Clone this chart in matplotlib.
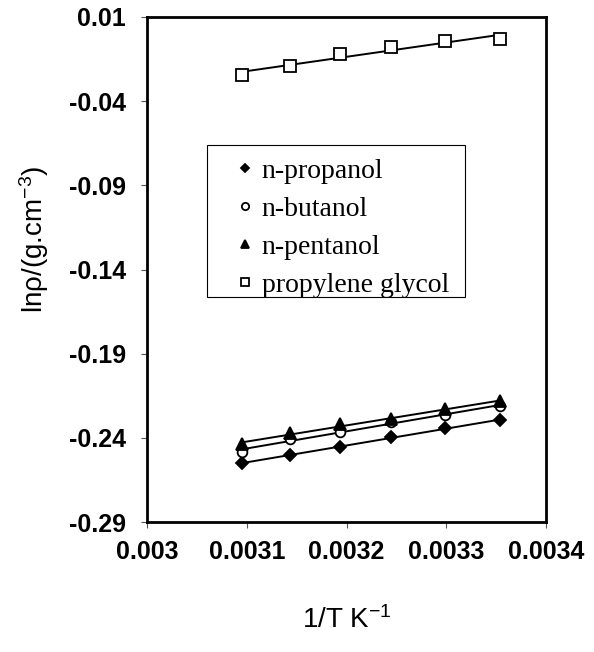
import matplotlib
matplotlib.use('Agg')
import matplotlib.pyplot as plt
from matplotlib.patches import Rectangle
import numpy as np

plt.rcParams['font.family'] = 'Liberation Sans'
plt.rcParams['mathtext.default'] = 'regular'

# 1/T for 323.15 ... 298.15 K
inv_T = [0.003095, 0.003143, 0.003193, 0.003245, 0.003299, 0.003354]

ln_rho_propanol = [-0.2552, -0.2502, -0.2453, -0.2397, -0.2344, -0.2295]
ln_rho_butanol = [-0.2483, -0.2409, -0.2364, -0.2305, -0.2265, -0.2211]
ln_rho_pentanol = [-0.2439, -0.2374, -0.2320, -0.2287, -0.2231, -0.2182]
ln_rho_glycol = [-0.0245, -0.0189, -0.0122, -0.0080, -0.0041, -0.0032]

names = ['n-propanol', 'n-butanol', 'n-pentanol', 'propylene glycol']
series = [ln_rho_propanol, ln_rho_butanol, ln_rho_pentanol, ln_rho_glycol]

xticks = [0.003, 0.0031, 0.0032, 0.0033, 0.0034]
xticklabels = ['0.003', '0.0031', '0.0032', '0.0033', '0.0034']
yticks = [-0.29, -0.24, -0.19, -0.14, -0.09, -0.04, 0.01]
yticklabels = ['-0.29', '-0.24', '-0.19', '-0.14', '-0.09', '-0.04', '0.01']

styles = [
    dict(marker='D', markersize=6, markerfacecolor='black'),
    dict(marker='o', markersize=7, markerfacecolor='white'),
    dict(marker='^', markersize=8, markerfacecolor='black'),
    dict(marker='s', markersize=8, markerfacecolor='white'),
]

fig = plt.figure(figsize=(5.94, 6.52), dpi=100)
ax = fig.add_axes([147/594, 1-522/652, 399/594, 505/652])

x = np.array(inv_T)
for name, y, st in zip(names, series, styles):
    # linear fit through each data set
    k, b = np.polyfit(x, y, 1)
    ax.plot(x, k*x + b, color='black', lw=1.4, zorder=2)
    ax.plot(x, y, linestyle='none', color='black', markeredgecolor='black',
            markeredgewidth=1.3, label=name, zorder=3, **st)

ax.set_xlim(0.003, 0.0034)
ax.set_ylim(-0.29, 0.01)
ax.set_xticks(xticks)
ax.set_xticklabels(xticklabels, fontsize=18, fontweight='bold')
ax.set_yticks(yticks)
ax.set_yticklabels(yticklabels, fontsize=18, fontweight='bold')
ax.tick_params(direction='out', length=4, width=0.8, color='#555555')
ax.tick_params(axis='y', pad=11)
ax.tick_params(axis='x', pad=9)

for s in ax.spines.values():
    s.set_linewidth(2)

ax.set_xlabel('1/T K$^{-1}$', fontsize=20, labelpad=30)
ax.set_ylabel('lnρ/(g.cm$^{-3}$)', fontsize=20)
ax.yaxis.set_label_coords(-0.24, 0.56)

# legend box drawn separately so the entries can sit left inside it
ax.add_patch(Rectangle((0.150, 0.4455), 0.647, 0.301, transform=ax.transAxes,
                       facecolor='white', edgecolor='black', lw=0.8, zorder=4))
leg = ax.legend(loc='upper left', bbox_to_anchor=(0.225, 0.72),
                prop={'family': 'Liberation Serif', 'size': 20},
                frameon=False, handlelength=0.6, handletextpad=0.3,
                labelspacing=0.45, borderpad=0, borderaxespad=0,
                markerscale=0.75)
leg.set_zorder(5)

plt.savefig('out.png', dpi=100)
